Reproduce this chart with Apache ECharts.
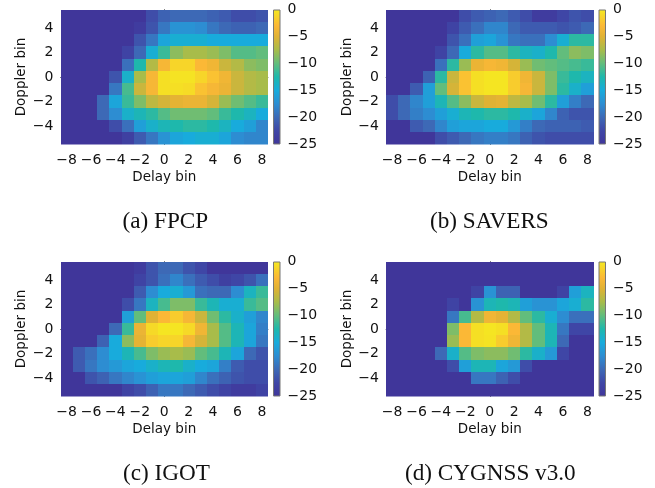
<!DOCTYPE html>
<html><head><meta charset="utf-8">
<style>html,body{margin:0;padding:0;background:#fff}#c{width:655px;height:488px;filter:blur(0.45px)}</style>
<script src="https://cdn.jsdelivr.net/npm/echarts@6/dist/echarts.min.js"></script></head>
<body><div id="c"></div>
<script>
const delayBins=[-8,-7,-6,-5,-4,-3,-2,-1,0,1,2,3,4,5,6,7,8];
const dopplerBins=[-5,-4,-3,-2,-1,0,1,2,3,4,5];
const delayTicks=[-8,-6,-4,-2,0,2,4,6,8];
const dopplerTicks=[-4,-2,0,2,4];
const L=-25;
// rows listed top (Doppler 5) to bottom (Doppler -5), columns Delay -8..8
const fpcp=[
[L,L,L,L,L,L,L,-22,-20.5,-20,-20,-20,-20.5,-21,-22,-22,-21.5],
[L,L,L,L,L,L,-24,-21.5,-19,-17,-17,-17.5,-19,-20,-20.5,-20.5,-20],
[L,L,L,L,L,L,-21.5,-19,-15.5,-14.5,-14.5,-14.5,-15,-15,-15,-15,-15],
[L,L,L,L,L,-23,-20,-14.5,-11.5,-8.5,-7.5,-7.5,-8,-9,-10.5,-10.5,-10],
[L,L,L,L,L,-19.5,-12.5,-7,-3,-1,-1,-2.5,-3.5,-6,-7,-8.5,-9],
[L,L,L,L,-21.5,-14,-7.5,-3,-0.5,-0.3,-0.3,-1,-2,-3.5,-6,-7,-7.5],
[L,L,L,L,-19,-11,-6,-3,-0.5,-0.5,-0.7,-2,-3,-4,-6,-7,-7.5],
[L,L,L,-20,-15.5,-11.5,-9,-6.5,-5.5,-4.5,-4,-4,-5.5,-8,-9.5,-10.5,-11.5],
[L,L,L,-20,-17.5,-14,-13,-12,-10.5,-9.5,-9.5,-9.5,-10,-11.5,-12.5,-13.5,-15],
[L,L,L,L,-22,-19.5,-16,-14,-13,-12.5,-12,-12,-12.5,-13.5,-15,-16,-18],
[L,L,L,L,L,-23.5,-21,-19,-17,-15.5,-15,-14.5,-14.5,-15.5,-17.5,-18,-18]];
const savers=[
[L,L,L,L,L,L,-22,-21,-20.5,-20,-21,-22,-24,-24,-22.5,-21.5,-22],
[L,L,L,L,L,-23,-21,-19.5,-18,-18,-20,-21,-21,-21,-21.5,-21,-20],
[L,L,L,L,L,-21.5,-19.5,-16,-15.5,-17,-19,-19.5,-19.5,-17.5,-14.5,-12,-12],
[L,L,L,L,-23,-20,-15,-12,-10.5,-10.5,-12,-13.5,-14,-12.5,-10,-8.5,-9],
[L,L,L,L,-19.5,-12,-8,-4,-3,-3.5,-5.5,-8,-9.5,-10,-10.5,-11,-11.5],
[L,L,L,-20.5,-12,-6,-2,-0.5,-0.2,-0.2,-1.5,-3.5,-6,-9,-11.5,-12.5,-13.5],
[L,L,-21,-16,-10,-5.5,-2,-0.5,-0.2,-0.2,-1.5,-3,-6,-9,-12,-14,-16],
[-22,-20,-18,-16,-13,-10.5,-8.5,-6,-5,-4.5,-6.5,-7.5,-9.5,-12,-16,-18.5,-20],
[-22,-20,-18.5,-17.5,-16,-14.5,-13,-12.5,-12,-12,-12.5,-14,-15.5,-18,-20.5,-21.5,-21.5],
[L,L,-21,-20,-18,-16,-15.5,-15.5,-15,-15,-16.5,-18.5,-20,-20.5,-20.5,-20.5,-21],
[L,L,L,L,-22,-21,-20,-19,-18.5,-18.5,-19,-20.5,-21.5,-22,-22,-22,-22]];
const igot=[
[L,L,L,L,L,L,-24,-21.5,-20,-20,-21.5,-22.5,L,L,L,L,L],
[L,L,L,L,L,L,-23,-21.5,-19.5,-18,-19.5,-21,-22,-23.5,-22.5,-21.5,-19.5],
[L,L,L,L,L,L,-21,-17.5,-15,-14.5,-16.5,-19.5,-20,-20,-17.5,-13.5,-11.5],
[L,L,L,L,L,-22,-19,-13.5,-11,-9,-9,-11.5,-13,-14.5,-14.5,-11.5,-10.5],
[L,L,L,L,L,-16,-10,-5,-2.5,-1.5,-3,-6,-9.5,-12,-14,-16,-18],
[L,L,L,L,-20,-11.5,-4,-0.8,-0.2,-0.2,-0.8,-3.5,-7.5,-10.5,-13,-15.5,-18.5],
[L,L,L,-20.5,-15,-8.5,-4.5,-1.5,-1,-1,-3,-5.5,-7.5,-10.5,-13,-15.5,-19],
[L,-21,-19.5,-17.5,-15,-13,-11,-9,-8,-7.5,-8,-10,-11,-13,-15.5,-20,-21.5],
[L,-21,-19,-17.5,-16.5,-15.5,-15,-14,-13,-12.5,-14,-15,-15.5,-18.5,-21,-22,-22],
[L,L,-21.5,-20.5,-19,-18,-17,-16,-15.5,-15.5,-16,-18,-19.5,-20.5,-21.5,-22,-22],
[L,L,L,L,L,-23,-22,-20.5,-19,-19,-20,-21,-22,-23,-24,-24,-23]];
const cygnss=[
[L,L,L,L,L,L,L,L,L,L,L,L,L,L,L,L,L],
[L,L,L,L,L,L,L,L,L,L,L,L,L,L,L,L,L],
[L,L,L,L,L,L,L,-23,-17,-20.5,-20.5,L,L,L,-23,-16,-13.5],
[L,L,L,L,L,-23,L,-17,-13,-12.5,-13,-16,-17,-17,-15.5,-14.5,-12],
[L,L,L,L,L,-19,-11,-7,-3.5,-4.5,-7,-10,-12,-14.5,-17.5,-19.5,-19.5],
[L,L,L,L,L,-9,-2.5,-0.5,-0.2,-0.5,-2.5,-7,-10,-13,-19,-22.5,-22.5],
[L,L,L,L,L,-8,-2.5,-0.5,-0.3,-1.5,-3.5,-7,-10,-13,-20,L,L],
[L,L,L,L,-20,-14,-10.5,-9,-8.5,-8.5,-9.5,-12,-14,-16.5,-22.5,L,L],
[L,L,L,L,L,-22,-16,-13,-13,-15.5,-16.5,-22,L,L,L,L,L],
[L,L,L,L,L,L,L,-19,-19,-20.5,-22,L,L,L,L,L,L],
[L,L,L,L,L,L,L,L,L,L,L,L,L,L,L,L,L]];
const captions=['(a) FPCP','(b) SAVERS','(c) IGOT','(d) CYGNSS v3.0'];
const panelData=[fpcp,savers,igot,cygnss];
const stops=[[0,'#40369a'],[0.1,'#3f46a6'],[0.2,'#3d69b6'],[0.3,'#2d8dd2'],[0.4,'#18abdc'],[0.5,'#1eb8ac'],[0.6,'#62bd7c'],[0.7,'#a8bc4a'],[0.8,'#e0b234'],[0.88,'#fbb836'],[1,'#f4e920']];
const tick={lineStyle:{color:'#333',width:1},length:3.5};
const fnt="'DejaVu Sans'";
const txt={color:'#111',fontSize:14,fontFamily:fnt};
const name={color:'#111',fontSize:13.5,fontFamily:fnt};
const fmt=v=>String(v).replace('-','\u2212');
const PX=[60.5,386],PY=[9.5,261.5],W=207.5,H=135,CX=[273,598.5];
const grid=[],xAxis=[],yAxis=[],series=[],title=[];
panelData.forEach((d,i)=>{
  const gx=PX[i%2],gy=PY[i>>1];
  const g=grid.length;
  grid.push({left:gx,top:gy,width:W,height:H,show:false});
  xAxis.push({type:'value',gridIndex:g,min:-8.5,max:8.5,
    axisLabel:{...txt,margin:9,customValues:delayTicks,formatter:fmt},
    axisTick:{...tick,customValues:delayTicks},axisLine:{lineStyle:{color:'#777',width:1}},splitLine:{show:false},
    name:'Delay bin',nameLocation:'middle',nameGap:26,nameTextStyle:name});
  yAxis.push({type:'value',gridIndex:g,min:-5.5,max:5.5,
    axisLabel:{...txt,margin:7,padding:[4,0,0,0],customValues:dopplerTicks,formatter:fmt},
    axisTick:{...tick,customValues:dopplerTicks},axisLine:{lineStyle:{color:'#777',width:1}},splitLine:{show:false},
    name:'Doppler bin',nameLocation:'middle',nameGap:32,nameTextStyle:name});
  const cells=[];
  d.forEach((row,r)=>row.forEach((v,c)=>cells.push([delayBins[c],dopplerBins[10-r],v])));
  series.push({type:'custom',xAxisIndex:g,yAxisIndex:g,data:cells,encode:{x:0,y:1},silent:true,clip:true,
    renderItem:(p,api)=>{
      const a=api.coord([api.value(0)-0.5,api.value(1)+0.5]),b=api.coord([api.value(0)+0.5,api.value(1)-0.5]);
      const x0=Math.round(a[0]),y0=Math.round(a[1]),x1=Math.round(b[0]),y1=Math.round(b[1]);
      return {type:'rect',shape:{x:x0,y:y0,width:x1-x0,height:y1-y0},style:{fill:api.visual('color')}};
    }});
  const cg=grid.length;
  grid.push({left:CX[i%2],top:gy,width:7.5,height:H,show:false});
  xAxis.push({type:'category',gridIndex:cg,data:['c'],show:false});
  yAxis.push({type:'value',gridIndex:cg,min:-25,max:0,interval:5,position:'right',
    axisLabel:{...txt,margin:7,padding:[4,0,0,0],formatter:fmt},axisTick:{...tick},
    axisLine:{show:false},splitLine:{show:false}});
  series.push({type:'bar',xAxisIndex:cg,yAxisIndex:cg,data:[-25],barWidth:'100%',silent:true,
    itemStyle:{borderColor:'#777',borderWidth:1,color:new echarts.graphic.LinearGradient(0,1,0,0,stops.map(s=>({offset:s[0],color:s[1]})))}});
  title.push({text:captions[i],left:[117.5,425,118,400][i],top:gy+195.5,padding:5,
    textStyle:{fontFamily:"'Liberation Serif'",fontSize:23.2,fontWeight:'normal',color:'#111'}});
});
const chart=echarts.init(document.getElementById('c'),null,{renderer:'canvas'});
chart.setOption({animation:false,backgroundColor:'#fff',title,grid,xAxis,yAxis,series,
  visualMap:{show:false,type:'continuous',min:-25,max:0,dimension:2,seriesIndex:[0,2,4,6],
    inRange:{color:stops.map(s=>s[1])}}});
</script></body></html>
